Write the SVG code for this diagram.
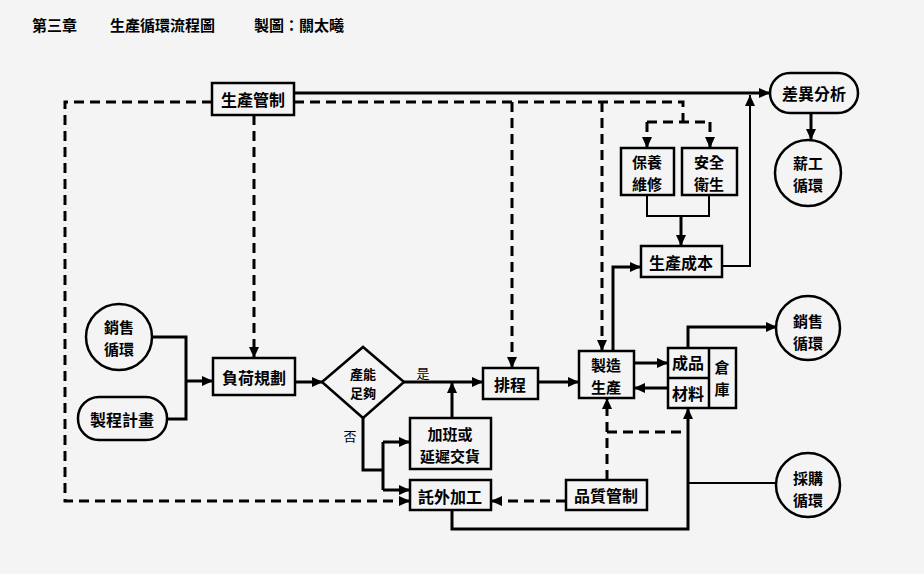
<svg xmlns="http://www.w3.org/2000/svg" width="924" height="574" viewBox="0 0 924 574">
<style>
.bg{fill:#f4f4f4}
.box{fill:none;stroke:#000;stroke-width:2.5}
.t{font-family:"Noto Sans CJK TC","Noto Sans CJK SC",sans-serif;font-weight:bold;font-size:16px;fill:#000;text-anchor:middle;dominant-baseline:central}
.t2{font-size:15px}
.ts{font-size:13px}
.tl{font-family:"Noto Sans CJK TC","Noto Sans CJK SC",sans-serif;font-size:13px;fill:#000;text-anchor:middle;dominant-baseline:central}
.title{font-family:"Noto Sans CJK TC","Noto Sans CJK SC",sans-serif;font-weight:bold;font-size:15px;fill:#000;dominant-baseline:central}
.s{fill:none;stroke:#000;stroke-width:3}
.s2{fill:none;stroke:#000;stroke-width:2}
.d{fill:none;stroke:#000;stroke-width:3;stroke-dasharray:10 6}
</style>
<defs>
<marker id="a" markerUnits="userSpaceOnUse" markerWidth="12" markerHeight="10" refX="11" refY="5" orient="auto">
<path d="M0,0 L11,5 L0,10 Z" fill="#000"/>
</marker>
</defs>
<rect class="bg" x="0" y="0" width="924" height="574"/>
<g id="title">
<text class="title" x="32" y="24">第三章</text>
<text class="title" x="110" y="24">生產循環流程圖</text>
<text class="title" x="254" y="24">製圖：關太曦</text>
</g>
<g id="connectors">
<path class="s" d="M294,93 H770" marker-end="url(#a)"/>
<path class="d" d="M294,102 H683 V122"/>
<path class="d" d="M647,122 H710"/>
<path class="d" d="M647,122 V148" marker-end="url(#a)"/>
<path class="d" d="M710,122 V148" marker-end="url(#a)"/>
<path class="d" d="M212,102 H65 V501 H410" marker-end="url(#a)"/>
<path class="d" d="M254,115 V358" marker-end="url(#a)"/>
<path class="d" d="M512,102 V368" marker-end="url(#a)"/>
<path class="d" d="M602,102 V351" marker-end="url(#a)"/>
<path class="s" d="M152,337 H186 V419 H167"/>
<path class="s" d="M186,381 H213" marker-end="url(#a)"/>
<path class="s" d="M295,382 H323" marker-end="url(#a)"/>
<path class="s" d="M403,382 H483" marker-end="url(#a)"/>
<path class="s" d="M452,418 V382" marker-end="url(#a)"/>
<path class="s" d="M363,418 V470 H383"/>
<path class="s" d="M383,442 V490"/>
<path class="s" d="M383,442 H410" marker-end="url(#a)"/>
<path class="s" d="M383,490 H410" marker-end="url(#a)"/>
<path class="d" d="M566,501 H491" marker-end="url(#a)"/>
<path class="s" d="M538,382 H579" marker-end="url(#a)"/>
<path class="s" d="M634,363 H668" marker-end="url(#a)"/>
<path class="s" d="M668,388 H634" marker-end="url(#a)"/>
<path class="s" d="M688,348 V327 H777" marker-end="url(#a)"/>
<path class="s" d="M452,510 V529 H688 V408" marker-end="url(#a)"/>
<path class="s2" d="M777,483 H688"/>
<path class="d" d="M607,480 V398" marker-end="url(#a)"/>
<path class="d" d="M607,432 H688"/>
<path class="s" d="M613,351 V267 H641" marker-end="url(#a)"/>
<path class="s2" d="M722,266 H750 V95" marker-end="url(#a)"/>
<path class="s2" d="M647,195 V216 H709 V195"/>
<path class="s" d="M681,216 V246" marker-end="url(#a)"/>
<path class="s" d="M811,113 V140" marker-end="url(#a)"/>
</g>
<g id="n-shengchanguanzhi">
<rect class="box" x="212" y="83" width="82" height="32"/>
<text class="t" x="253" y="99">生產管制</text>
</g>
<g id="n-fuhe">
<rect class="box" x="213" y="358" width="82" height="37"/>
<text class="t" x="254" y="377">負荷規劃</text>
</g>
<g id="n-xiaoshou-left">
<circle class="box" cx="119" cy="337" r="33"/>
<text class="t t2" x="119" y="326">銷售</text>
<text class="t t2" x="119" y="348">循環</text>
</g>
<g id="n-zhicheng">
<rect class="box" x="78" y="397" width="89" height="43" rx="21"/>
<text class="t" x="122" y="419">製程計畫</text>
</g>
<g id="n-channeng">
<polygon class="box" points="322,382 363,347 404,382 363,418"/>
<text class="t ts" x="363" y="373">產能</text>
<text class="t ts" x="363" y="392">足夠</text>
</g>
<text class="tl" x="423" y="372">是</text>
<text class="tl" x="350" y="435">否</text>
<g id="n-paicheng">
<rect class="box" x="483" y="368" width="55" height="31"/>
<text class="t" x="510" y="384">排程</text>
</g>
<g id="n-jiaban">
<rect class="box" x="410" y="418" width="81" height="51"/>
<text class="t t2" x="450" y="433">加班或</text>
<text class="t t2" x="450" y="455">延遲交貨</text>
</g>
<g id="n-tuowai">
<rect class="box" x="410" y="480" width="81" height="30"/>
<text class="t" x="450" y="496">託外加工</text>
</g>
<g id="n-pinzhi">
<rect class="box" x="566" y="480" width="81" height="30"/>
<text class="t" x="606" y="495">品質管制</text>
</g>
<g id="n-zhizao">
<rect class="box" x="579" y="351" width="55" height="47"/>
<text class="t t2" x="606" y="364">製造</text>
<text class="t t2" x="606" y="386">生產</text>
</g>
<g id="n-cangku">
<rect class="box" x="668" y="348" width="68" height="60"/>
<path class="box" d="M709,348 V408 M668,378 H709"/>
<text class="t" x="688" y="362">成品</text>
<text class="t" x="688" y="393">材料</text>
<text class="t t2" x="722" y="366">倉</text>
<text class="t t2" x="722" y="388">庫</text>
</g>
<g id="n-xiaoshou-right">
<circle class="box" cx="808" cy="328" r="32"/>
<text class="t t2" x="808" y="320">銷售</text>
<text class="t t2" x="808" y="342">循環</text>
</g>
<g id="n-caigou">
<circle class="box" cx="808" cy="485" r="32"/>
<text class="t t2" x="808" y="477">採購</text>
<text class="t t2" x="808" y="499">循環</text>
</g>
<g id="n-baoyang">
<rect class="box" x="621" y="148" width="53" height="47"/>
<text class="t t2" x="647" y="161">保養</text>
<text class="t t2" x="647" y="183">維修</text>
</g>
<g id="n-anquan">
<rect class="box" x="682" y="148" width="55" height="47"/>
<text class="t t2" x="709" y="161">安全</text>
<text class="t t2" x="709" y="183">衛生</text>
</g>
<g id="n-chengben">
<rect class="box" x="641" y="246" width="81" height="31"/>
<text class="t" x="681" y="262">生產成本</text>
</g>
<g id="n-chayi">
<rect class="box" x="770" y="73" width="88" height="40" rx="20"/>
<text class="t" x="814" y="93">差異分析</text>
</g>
<g id="n-xingong">
<circle class="box" cx="808" cy="173" r="33"/>
<text class="t t2" x="808" y="162">薪工</text>
<text class="t t2" x="808" y="184">循環</text>
</g>
</svg>
